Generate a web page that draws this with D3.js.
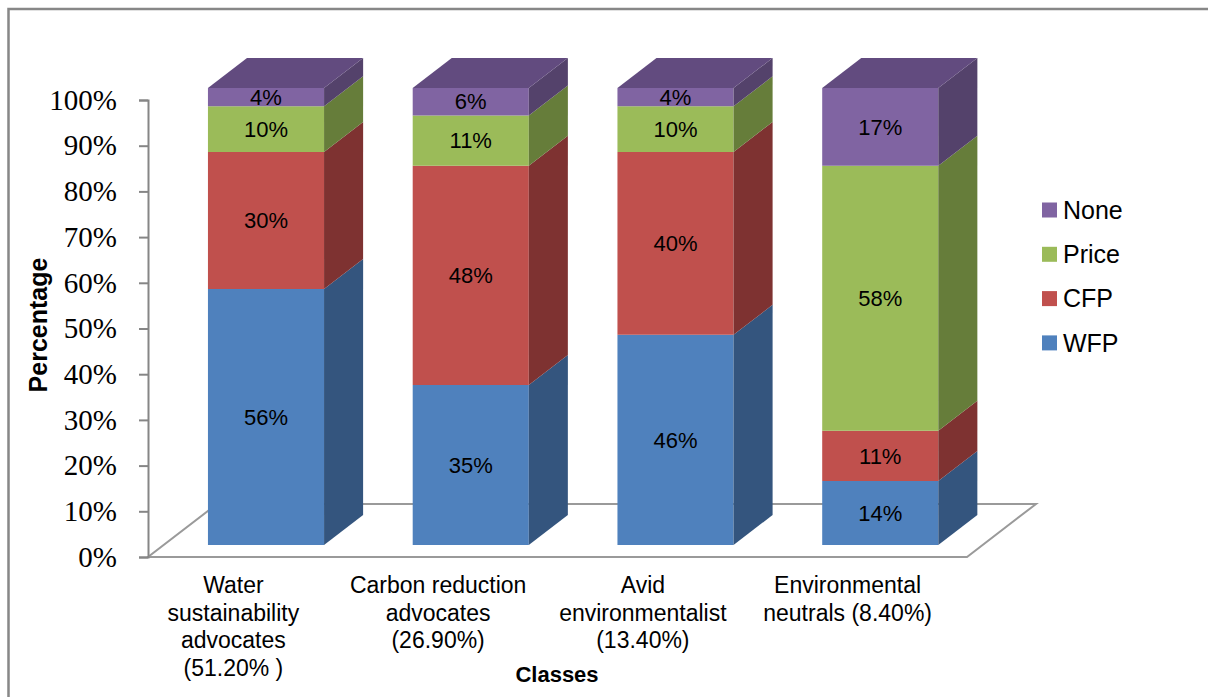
<!DOCTYPE html>
<html>
<head>
<meta charset="utf-8">
<script src="https://cdn.jsdelivr.net/npm/d3@7"></script>
<style>
  html, body { margin: 0; padding: 0; background: #fff; }
  svg { display: block; }
</style>
</head>
<body>
<svg id="chart" width="1208" height="697"></svg>
<script>
// Preference shares per consumer class (stacked to 100%)
const categories = [
  "Water sustainability advocates (51.20% )",
  "Carbon reduction advocates (26.90%)",
  "Avid environmentalist (13.40%)",
  "Environmental neutrals (8.40%)"
];
const categoryLines = [
  ["Water", "sustainability", "advocates", "(51.20% )"],
  ["Carbon reduction", "advocates", "(26.90%)"],
  ["Avid", "environmentalist", "(13.40%)"],
  ["Environmental", "neutrals (8.40%)"]
];
const seriesNames = ["WFP", "CFP", "Price", "None"];
const wfp   = [56, 35, 46, 14];
const cfp   = [30, 48, 40, 11];
const price = [10, 11, 10, 58];
const none  = [4, 6, 4, 17];
const yTicks = [0, 10, 20, 30, 40, 50, 60, 70, 80, 90, 100];

const seriesValues = { WFP: wfp, CFP: cfp, Price: price, None: none };
const frontColor = { WFP: "#4F81BD", CFP: "#C0504D", Price: "#9BBB59", None: "#8064A2" };
const sideColor  = { WFP: "#34557E", CFP: "#7E3231", Price: "#667D3A", None: "#54426B" };
const topColor   = { WFP: "#3D6391", CFP: "#8F3B39", Price: "#738C42", None: "#624B7F" };

const SANS = "'Liberation Sans', Arial, sans-serif";
const SERIF = "'Liberation Serif', Tinos, 'Times New Roman', 'DejaVu Serif', serif";

const svg = d3.select("#chart");

// outer frame
svg.append("rect")
  .attr("x", 8.5).attr("y", 9).attr("width", 1400).attr("height", 900)
  .attr("fill", "none").attr("stroke", "#878787").attr("stroke-width", 2.5);

// front plane scales + oblique depth projection
const x = d3.scaleBand().domain(categories).range([148, 967])
  .paddingInner(0.433).paddingOuter(0.2165);
const y = d3.scaleLinear().domain([0, 100]).range([557, 100]);
const depthX = 69, depthY = -53;
const barZ0 = 0.2264, barZ1 = 0.7925;
const proj = (px, v, z) => [px + z * depthX, y(v) + z * depthY];

// floor
const floorPts = [proj(148, 0, 0), proj(967, 0, 0), proj(967, 0, 1), proj(148, 0, 1)];
svg.append("polygon")
  .attr("points", floorPts.map(p => p.join(",")).join(" "))
  .attr("fill", "#fff").attr("stroke", "#9A9A9A").attr("stroke-width", 2);

// stacked data
const table = categories.map((c, i) => {
  const row = { category: c };
  seriesNames.forEach(s => row[s] = seriesValues[s][i]);
  return row;
});
const stacked = d3.stack().keys(seriesNames)(table);

const bars = svg.append("g");
const bw = x.bandwidth();
const poly = pts => pts.map(p => p.join(",")).join(" ");

categories.forEach((c, i) => {
  const g = bars.append("g");
  const x0 = x(c), x1 = x(c) + bw;
  stacked.forEach((layer, li) => {
    const s = layer.key;
    const [v0, v1] = layer[i];
    // front face
    g.append("polygon")
      .attr("points", poly([proj(x0, v0, barZ0), proj(x1, v0, barZ0), proj(x1, v1, barZ0), proj(x0, v1, barZ0)]))
      .attr("fill", frontColor[s]);
    // right side face
    g.append("polygon")
      .attr("points", poly([proj(x1, v0, barZ0), proj(x1, v0, barZ1), proj(x1, v1, barZ1), proj(x1, v1, barZ0)]))
      .attr("fill", sideColor[s]);
    // top face of the uppermost segment
    if (li === stacked.length - 1) {
      g.append("polygon")
        .attr("points", poly([proj(x0, v1, barZ0), proj(x1, v1, barZ0), proj(x1, v1, barZ1), proj(x0, v1, barZ1)]))
        .attr("fill", topColor[s]);
    }
    // value label on the front face
    const cx = proj(x0 + bw / 2, 0, barZ0)[0];
    const cy = (proj(0, v0, barZ0)[1] + proj(0, v1, barZ0)[1]) / 2;
    g.append("text")
      .attr("x", cx).attr("y", cy).attr("dy", "0.35em")
      .attr("text-anchor", "middle")
      .style("font-family", SANS)
      .style("font-size", "22px").attr("fill", "#000")
      .text(seriesValues[s][i] + "%");
  });
});

// vertical axis
const yAxis = d3.axisLeft(y).tickValues(yTicks).tickSize(9).tickPadding(22)
  .tickFormat(d => d + "%");
const ax = svg.append("g").attr("transform", "translate(148,0)").call(yAxis);
ax.attr("font-family", SERIF).attr("font-size", 29);
ax.select(".domain").attr("stroke", "#868686").attr("stroke-width", 2);
ax.selectAll(".tick line").attr("stroke", "#868686").attr("stroke-width", 2);
ax.selectAll(".tick text")
  .style("font-family", SERIF)
  .style("font-size", "29px").attr("fill", "#000");

// category labels
categories.forEach((c, i) => {
  const cx = x(c) + bw / 2 - 17;
  const t = svg.append("text")
    .attr("text-anchor", "middle")
    .style("font-family", SANS)
    .style("font-size", "23px").attr("fill", "#000");
  categoryLines[i].forEach((line, k) => {
    t.append("tspan").attr("x", cx).attr("y", 593 + k * 27.5).text(line);
  });
});

// axis titles
svg.append("text")
  .attr("transform", "translate(47,325) rotate(-90)")
  .attr("text-anchor", "middle")
  .style("font-family", SANS)
  .style("font-weight", "bold").style("font-size", "25px")
  .text("Percentage");
svg.append("text")
  .attr("x", 557).attr("y", 682)
  .attr("text-anchor", "middle")
  .style("font-family", SANS)
  .style("font-weight", "bold").style("font-size", "22px")
  .text("Classes");

// legend (top series first)
const legendOrder = seriesNames.slice().reverse();
const lg = svg.append("g");
legendOrder.forEach((s, k) => {
  const cy = 210 + k * 44.3;
  lg.append("rect").attr("x", 1042).attr("y", cy - 7.5).attr("width", 15).attr("height", 15)
    .attr("fill", frontColor[s]);
  lg.append("text").attr("x", 1063).attr("y", cy).attr("dy", "0.35em")
    .style("font-family", SANS)
    .style("font-size", "25px").attr("fill", "#000")
    .text(s);
});
</script>
</body>
</html>
